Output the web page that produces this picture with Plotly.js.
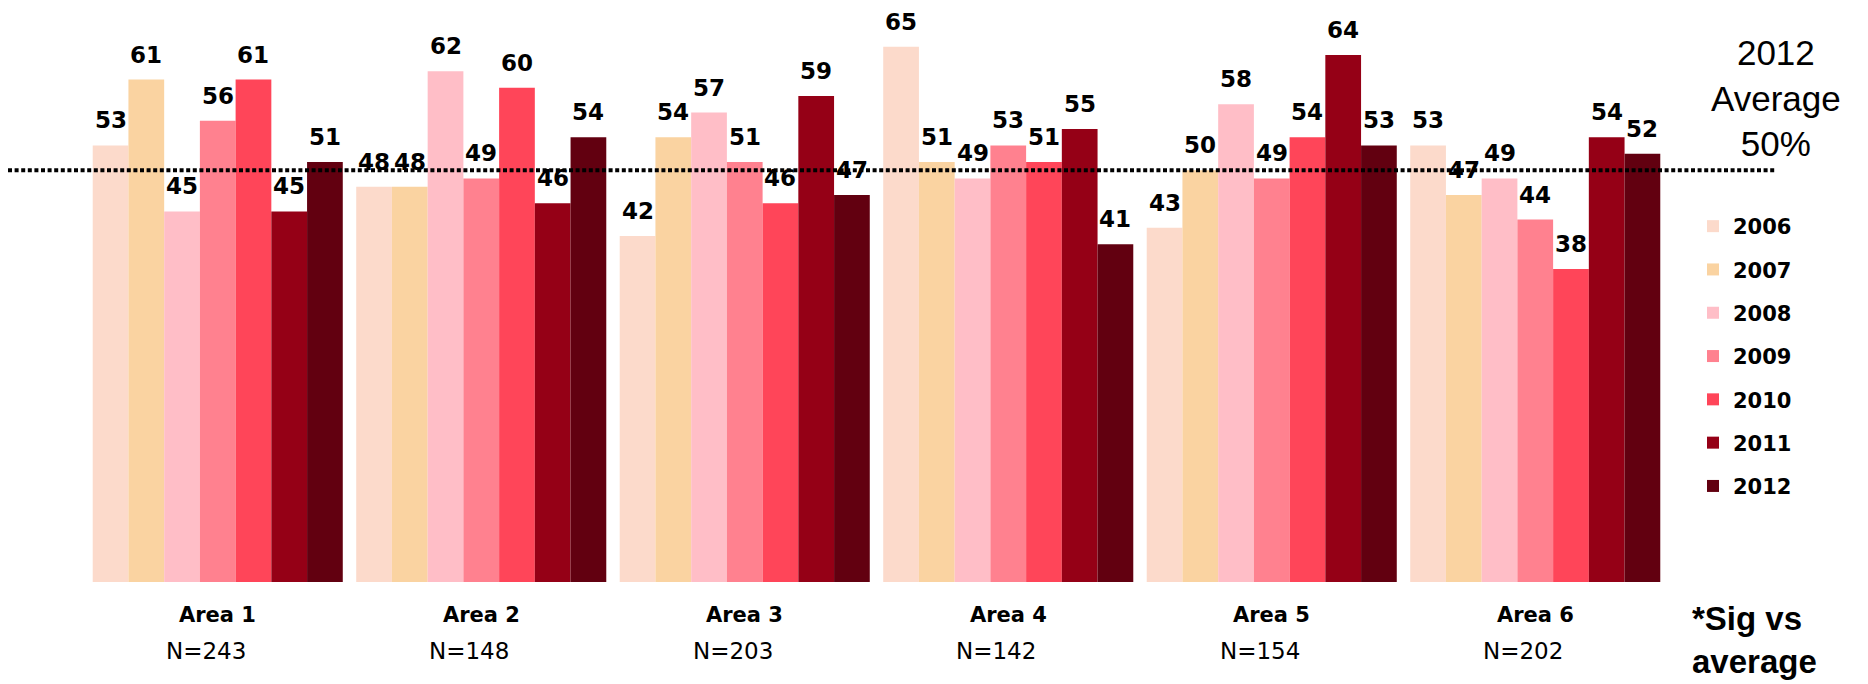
<!DOCTYPE html>
<html>
<head>
<meta charset="utf-8">
<script src="https://cdn.plot.ly/plotly-3.0.1.min.js"></script>
<style>html,body{margin:0;padding:0;background:#fff;}#chart{width:1868px;height:684px;}</style>
</head>
<body>
<div id="chart"></div>
<script>
// ---- data ----
const areas = ["Area 1", "Area 2", "Area 3", "Area 4", "Area 5", "Area 6"];
const sampleSizes = [243, 148, 203, 142, 154, 202];
const years = ["2006", "2007", "2008", "2009", "2010", "2011", "2012"];
const y2006 = [53, 48, 42, 65, 43, 53];
const y2007 = [61, 48, 54, 51, 50, 47];
const y2008 = [45, 62, 57, 49, 58, 49];
const y2009 = [56, 49, 51, 53, 49, 44];
const y2010 = [61, 60, 46, 51, 54, 38];
const y2011 = [45, 46, 59, 55, 64, 54];
const y2012 = [51, 54, 47, 41, 53, 52];
const average2012 = 50;

// ---- style ----
const series = [y2006, y2007, y2008, y2009, y2010, y2011, y2012];
const colors = ["#FCDACB", "#FAD3A1", "#FFBEC7", "#FF818F", "#FF4559", "#950016", "#620010"];
const bargap = 0.051;
const nS = series.length;
const bw = (1 - bargap) / nS;
const xIdx = areas.map((_, i) => i);

const traces = series.map((vals, j) => ({
  type: "bar",
  name: years[j],
  x: xIdx,
  y: vals,
  marker: {color: colors[j]},
  legendgroup: years[j],
  hoverinfo: "y"
}));

const annotations = [];
series.forEach((vals, j) => {
  vals.forEach((v, i) => {
    annotations.push({
      x: i + (j - (nS - 1) / 2) * bw, y: v, xref: "x", yref: "y",
      text: String(v), showarrow: false, yanchor: "bottom", yshift: 10,
      font: {family: "DejaVu Sans", size: 23, color: "#000", weight: "bold"}
    });
  });
});
areas.forEach((a, i) => {
  annotations.push({
    x: i, y: 0, xref: "x", yref: "y", text: "<b>" + a + "</b>", showarrow: false,
    yanchor: "middle", yshift: -33,
    font: {family: "DejaVu Sans", size: 21, color: "#000"}
  });
  annotations.push({
    x: i, y: 0, xref: "x", yref: "y", text: "N=" + sampleSizes[i], showarrow: false,
    yanchor: "middle", yshift: -69, xshift: -12,
    font: {family: "DejaVu Sans", size: 23, color: "#000"}
  });
});
const plotH = 582;
const py = p => 1 - p / plotH;
annotations.push({
  xref: "paper", yref: "paper", x: (1776 - 86) / 1581, y: py(31), xanchor: "center", yanchor: "top",
  text: "2012<br>Average<br>" + average2012 + "%", showarrow: false, align: "center",
  font: {family: "Liberation Sans", size: 35, color: "#000"}
});
annotations.push({
  xref: "paper", yref: "paper", x: (1690 - 86) / 1581, y: py(598), xanchor: "left", yanchor: "top",
  text: "<b>*Sig vs<br>average</b>", showarrow: false, align: "left",
  font: {family: "Liberation Sans", size: 33, color: "#000"}
});

const layout = {
  width: 1868, height: 684,
  margin: {l: 86, r: 201, t: 0, b: 102, pad: 0},
  paper_bgcolor: "#fff", plot_bgcolor: "#fff",
  barmode: "group", bargap: bargap, bargroupgap: 0,
  xaxis: {range: [-0.5, 5.5], showticklabels: false, showgrid: false, zeroline: false, showline: false, ticks: "", fixedrange: true},
  yaxis: {range: [0, plotH / 8.236], showticklabels: false, showgrid: false, zeroline: false, showline: false, ticks: "", fixedrange: true},
  showlegend: true,
  legend: {
    x: (1693 - 86) / 1581, xanchor: "left", y: py(206), yanchor: "top",
    font: {family: "DejaVu Sans", size: 21, color: "#000", weight: "bold"},
    tracegroupgap: 13, traceorder: "grouped", bgcolor: "rgba(0,0,0,0)", itemclick: false
  },
  shapes: [{
    type: "line", xref: "paper", yref: "y", x0: (8 - 86) / 1581, x1: (1776 - 86) / 1581,
    y0: average2012, y1: average2012, layer: "above",
    line: {color: "#000", width: 4, dash: "4px,2.6px"}
  }],
  annotations: annotations
};

Plotly.newPlot("chart", traces, layout, {displayModeBar: false, staticPlot: true});
</script>
</body>
</html>
